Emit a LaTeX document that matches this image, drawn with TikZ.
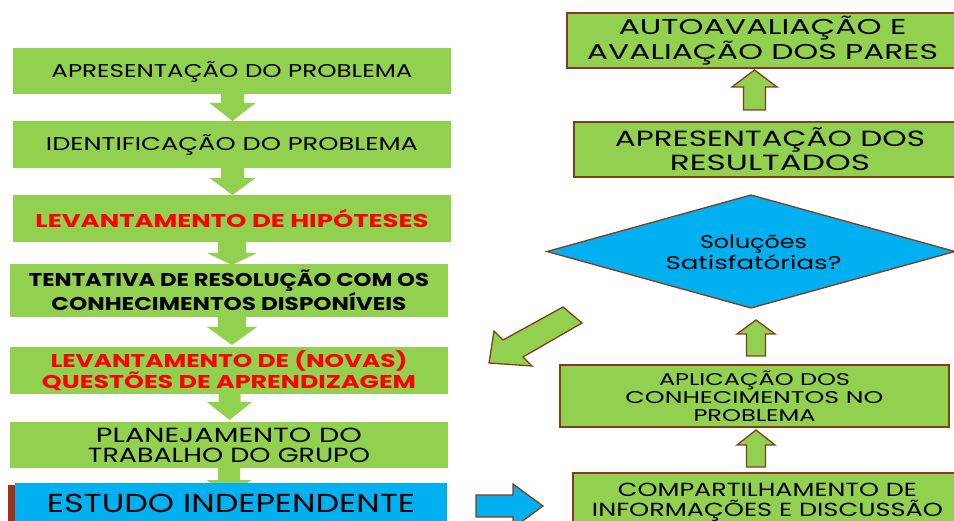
\documentclass[tikz,border=0pt]{standalone}
\usepackage{fontspec}
\setmainfont{Poppins}
\usepackage{graphicx}
\usetikzlibrary{shapes.geometric}
\definecolor{grn}{HTML}{92D050}
\definecolor{blu}{HTML}{00B0F0}
\definecolor{brn}{HTML}{843C1C}
\definecolor{stripc}{HTML}{A3311A}
\definecolor{rd}{HTML}{FF0000}
\newcommand\fw[2]{\resizebox{#1pt}{\height}{#2}}
\newcommand\dnarr[6]{\fill[larrow] ({#1-#5},#2) -- ({#1+#5},#2) -- ({#1+#5},#3) -- ({#1+#6},#3) -- (#1,#4) -- ({#1-#6},#3) -- ({#1-#5},#3) -- cycle;}
\newcommand\uparr[6]{\draw[rarrow] ({#1-#5},#2) -- ({#1+#5},#2) -- ({#1+#5},#3) -- ({#1+#6},#3) -- (#1,#4) -- ({#1-#6},#3) -- ({#1-#5},#3) -- cycle;}
\tikzset{
 lbox/.style={rectangle, fill=grn, inner sep=0pt, align=center, text=black},
 rbox/.style={rectangle, fill=grn, draw=brn, line width=1.5pt, inner sep=0pt, align=center, text=black},
 larrow/.style={fill=grn},
 rarrow/.style={fill=grn, draw=brn, line width=1.3pt, line join=miter},
 barrow/.style={fill=blu, draw=brn, line width=1.3pt, line join=miter},
 dtext/.style={inner sep=0pt, align=center, text=black},
}
\begin{document}
\begin{tikzpicture}[x=1pt,y=-1pt]
\clip (0,0) rectangle (954,521);
\fill[white] (0,0) rectangle (954,521);
% left column arrows
\dnarr{232.5}{94}{103}{121}{11.5}{23}
\dnarr{232.5}{168}{178}{195}{11.5}{23}
\dnarr{232}{242}{253}{265}{14}{25}
\dnarr{232}{317}{327}{345}{14}{25}
\dnarr{229.5}{394}{402}{420}{11}{22.5}
\dnarr{229}{468}{480}{495}{11}{22.5}
% left column boxes
\node[lbox, minimum width=438pt, minimum height=46pt, font=\fontsize{18.5}{20}\selectfont] (b1) at (232,71.5) {\fw{361}{APRESENTAÇÃO DO PROBLEMA}};
\node[lbox, minimum width=438pt, minimum height=47pt, font=\fontsize{18.5}{20}\selectfont] (b2) at (232,144.5) {\fw{372}{IDENTIFICAÇÃO DO PROBLEMA}};
\node[lbox, minimum width=438pt, minimum height=47pt, text=rd, font=\fontsize{18.5}{20}\selectfont\bfseries] (b3) at (232,218.5) {\fw{393}{LEVANTAMENTO DE HIPÓTESES}};
\node[lbox, minimum width=438pt, minimum height=53pt, font=\fontsize{18.5}{20}\selectfont\bfseries] (b4) at (229,290.5) {\fw{400}{TENTATIVA DE RESOLUÇÃO COM OS}\\\fw{355}{CONHECIMENTOS DISPONÍVEIS}};
\node[lbox, minimum width=438pt, minimum height=47pt, text=rd, font=\fontsize{18.5}{21}\selectfont\bfseries] (b5) at (229,370.5) {\fw{357}{LEVANTAMENTO DE (NOVAS)}\\\fw{374}{QUESTÕES DE APRENDIZAGEM}};
\node[lbox, minimum width=438pt, minimum height=46pt, font=\fontsize{20.5}{20}\selectfont] (b6) at (229,445) {\fw{266}{PLANEJAMENTO DO}\\\fw{282}{TRABALHO DO GRUPO}};
\fill[stripc] (8,485) rectangle (15,530);
\fill[blu] (15,483) rectangle (447,530);
\node[lbox, fill=none, minimum width=432pt, font=\fontsize{26}{27}\selectfont] (b7) at (231,503.5) {\fw{368}{ESTUDO INDEPENDENTE}};
% right column
\node[rbox, minimum width=391pt, minimum height=55pt, font=\fontsize{21.5}{21}\selectfont] (r1) at (762.5,40.5) {\fw{288}{AUTOAVALIAÇÃO E}\\\fw{351}{AVALIAÇÃO DOS PARES}};
\node[rbox, minimum width=392pt, minimum height=55pt, font=\fontsize{22}{24}\selectfont] (r2) at (770,149.5) {\fw{310}{APRESENTAÇÃO DOS}\\\fw{200}{RESULTADOS}};
\draw[fill=blu, draw=brn, line width=1.3pt, line join=miter] (547,251.5) -- (751,195) -- (955,251.5) -- (751,308) -- cycle;
\node[dtext, font=\fontsize{18.5}{21}\selectfont] (d) at (753.5,252.5) {\fw{107}{Soluções}\\\fw{176}{Satisfatórias?}};
\node[rbox, minimum width=389pt, minimum height=62pt, font=\fontsize{17}{18}\selectfont] (r3) at (754.5,396) {\fw{191}{APLICAÇÃO DOS}\\\fw{258}{CONHECIMENTOS NO}\\\fw{122}{PROBLEMA}};
\node[rbox, minimum width=389pt, minimum height=58pt, font=\fontsize{19}{20}\selectfont] (r4) at (767.5,502) {\fw{299}{COMPARTILHAMENTO DE}\\\fw{351}{INFORMAÇÕES E DISCUSSÃO}};
% right arrows
\uparr{754.5}{110}{87}{70}{11}{22.5}
\uparr{756}{356}{334}{320}{9.5}{19}
\uparr{756}{467}{445}{430}{9.5}{19}
\draw[rarrow] (489,363) -- (494,331) -- (503,340) -- (563,307) -- (582,323) -- (523,357) -- (532,366) -- cycle;
\draw[barrow] (476,495) -- (513,495) -- (513,484) -- (543,506) -- (513,528) -- (513,517) -- (476,517) -- cycle;
\end{tikzpicture}
\end{document}
